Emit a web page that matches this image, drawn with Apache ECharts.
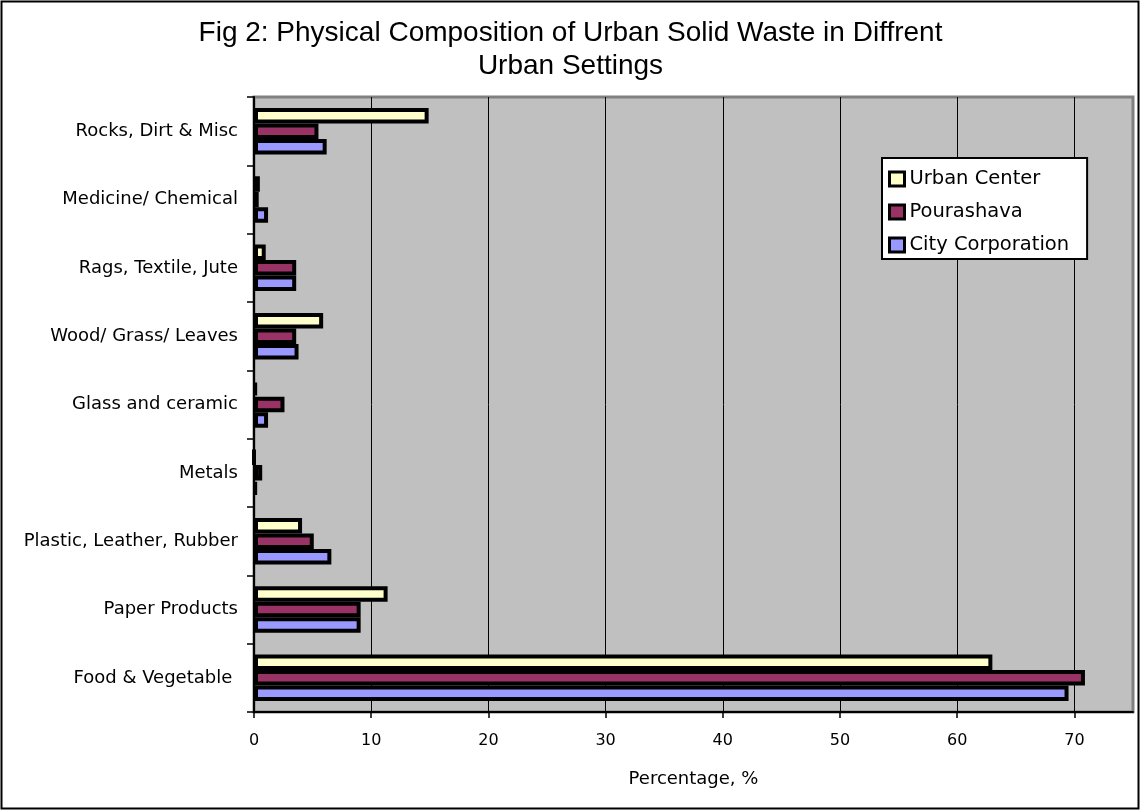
<!DOCTYPE html>
<html>
<head>
<meta charset="utf-8">
<script src="https://cdn.jsdelivr.net/npm/echarts@6/dist/echarts.min.js"></script>
<style>
html,body{margin:0;padding:0;background:#fff;}
#chart{width:1141px;height:811px;}
</style>
</head>
<body>
<div id="chart"></div>
<script>
var categories = ['Food & Vegetable ', 'Paper Products', 'Plastic, Leather, Rubber', 'Metals', 'Glass and ceramic', 'Wood/ Grass/ Leaves', 'Rags, Textile, Jute', 'Medicine/ Chemical', 'Rocks, Dirt & Misc'];
var urbanCenter = [63.0, 11.4, 4.1, 0, 0.2, 5.9, 1.0, 0.5, 14.9];
var pourashava = [70.9, 9.1, 5.1, 0.7, 2.6, 3.6, 3.6, 0.4, 5.5];
var cityCorporation = [69.5, 9.1, 6.6, 0.2, 1.2, 3.8, 3.6, 1.2, 6.2];
var xTicks = [0, 10, 20, 30, 40, 50, 60, 70];

var chart = echarts.init(document.getElementById('chart'));
var barStyle = function (c) {
  return { color: c, borderColor: '#000', borderWidth: 4 };
};
chart.setOption({
  backgroundColor: '#fff',
  animation: false,
  title: {
    text: 'Fig 2: Physical Composition of Urban Solid Waste in Diffrent\nUrban Settings',
    left: 'center',
    top: 12,
    textStyle: { fontFamily: 'Liberation Sans', fontSize: 28, fontWeight: 'normal', color: '#000', lineHeight: 33 }
  },
  graphic: [{
    type: 'rect',
    shape: { x: 1.5, y: 1.5, width: 1137, height: 807 },
    style: { fill: 'none', stroke: '#000', lineWidth: 2 },
    silent: true
  }],
  legend: {
    orient: 'vertical',
    left: 882,
    top: 158,
    data: ['Urban Center', 'Pourashava', 'City Corporation'],
    backgroundColor: '#fff',
    borderColor: '#000',
    borderWidth: 2,
    padding: [11, 18, 4, 6],
    itemGap: 13,
    itemWidth: 15,
    itemHeight: 14,
    itemStyle: { borderColor: '#000', borderWidth: 3 },
    icon: 'rect',
    textStyle: { fontFamily: 'DejaVu Sans', fontSize: 19.5, color: '#000', lineHeight: 20 }
  },
  grid: {
    left: 254, top: 97, right: 8, bottom: 99,
    show: true, backgroundColor: '#C0C0C0', borderColor: '#808080', borderWidth: 3,
    containLabel: false
  },
  xAxis: {
    type: 'value',
    min: 0, max: 75, interval: 10,
    name: 'Percentage, %',
    nameLocation: 'middle',
    nameGap: 58,
    nameTextStyle: { fontFamily: 'DejaVu Sans', fontSize: 18, color: '#000' },
    axisLine: { show: true, lineStyle: { color: '#000', width: 2 } },
    axisTick: { show: true, length: 6, lineStyle: { color: '#000', width: 1.5 } },
    axisLabel: {
      showMaxLabel: false, margin: 21,
      fontFamily: 'DejaVu Sans', fontSize: 16, color: '#000',
      formatter: function (v) { return xTicks.indexOf(v) >= 0 ? String(v) : ''; }
    },
    splitLine: { show: true, showMinLine: false, showMaxLine: false, lineStyle: { color: '#000', width: 1 } }
  },
  yAxis: {
    type: 'category',
    data: categories,
    axisLine: { show: true, lineStyle: { color: '#000', width: 2 } },
    axisTick: { show: true, length: 7, lineStyle: { color: '#000', width: 1.5 } },
    axisLabel: { margin: 16, fontFamily: 'DejaVu Sans', fontSize: 18, color: '#000' },
    splitLine: { show: false }
  },
  series: [
    { name: 'Urban Center', type: 'bar', data: urbanCenter, itemStyle: barStyle('#FFFFCC'), barWidth: 15.5, barGap: '0%' },
    { name: 'Pourashava', type: 'bar', data: pourashava, itemStyle: barStyle('#993366'), barWidth: 15.5, barGap: '0%' },
    { name: 'City Corporation', type: 'bar', data: cityCorporation, itemStyle: barStyle('#9999FF'), barWidth: 15.5, barGap: '0%' }
  ]
});
</script>
</body>
</html>
